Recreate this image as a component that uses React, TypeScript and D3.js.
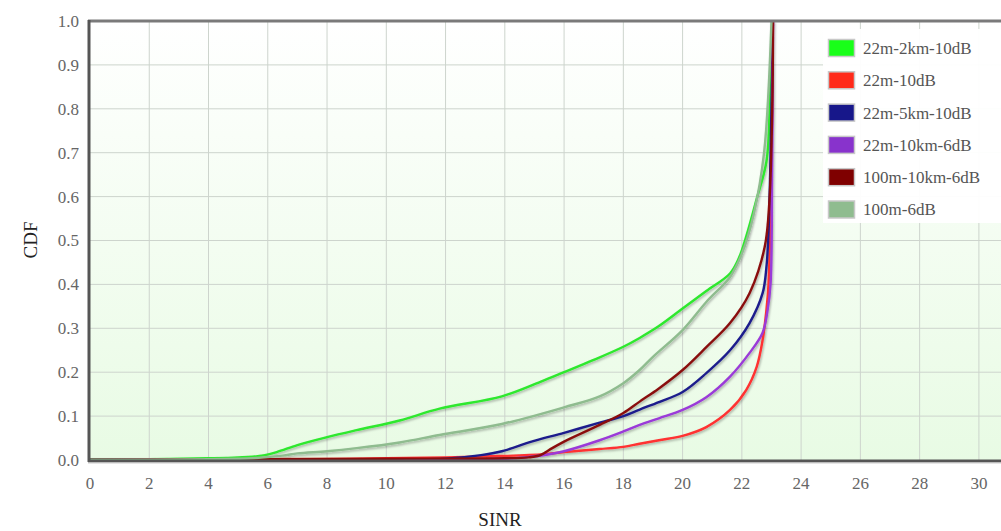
import React from "react";
import * as d3 from "d3";

const W = 1001;
const H = 531;

const xTicks = [0, 2, 4, 6, 8, 10, 12, 14, 16, 18, 20, 22, 24, 26, 28, 30];
const yTicks = [0, 0.1, 0.2, 0.3, 0.4, 0.5, 0.6, 0.7, 0.8, 0.9, 1.0];

const seriesNames = ["22m-2km-10dB", "22m-10dB", "22m-5km-10dB", "22m-10km-6dB", "100m-10km-6dB", "100m-6dB"];
const lineColors = ["#2ee82e", "#ff3030", "#1c1c8c", "#9a3ad8", "#8a0e0e", "#8fbc8f"];
const swatchColors = ["#19ff19", "#ff2a1a", "#17178a", "#8833cc", "#7f0000", "#8fbc8f"];

const greenX = [0, 2, 4, 5, 5.8, 6.3, 7, 8, 9, 10.45, 11.8, 13.9, 15.2, 16, 17, 18, 18.55, 19.2, 20, 20.8, 21.6, 21.9, 22.15, 22.5, 22.83, 22.95, 23.04];
const greenY = [0.002, 0.002, 0.004, 0.006, 0.01, 0.018, 0.034, 0.052, 0.068, 0.09, 0.117, 0.145, 0.178, 0.2, 0.228, 0.258, 0.278, 0.305, 0.345, 0.385, 0.425, 0.46, 0.51, 0.595, 0.68, 0.82, 1.0];

const redX = [0, 6, 9, 12, 13.9, 15.3, 16, 17.2, 18, 18.55, 19.2, 20, 20.8, 21.6, 22.15, 22.5, 22.7, 22.83, 22.9, 22.98, 23.03, 23.05];
const redY = [0, 0.002, 0.003, 0.006, 0.009, 0.013, 0.018, 0.025, 0.03, 0.037, 0.045, 0.055, 0.075, 0.114, 0.16, 0.212, 0.273, 0.342, 0.4, 0.6, 0.85, 1.0];

const navyX = [0, 6, 10, 12, 13.2, 13.9, 14.9, 16, 17.2, 18, 18.55, 19.2, 20, 20.8, 21.6, 22.26, 22.7, 22.83, 22.9, 22.97, 23.05];
const navyY = [0, 0.001, 0.002, 0.003, 0.011, 0.02, 0.042, 0.062, 0.085, 0.1, 0.115, 0.132, 0.155, 0.198, 0.25, 0.312, 0.38, 0.44, 0.52, 0.7, 1.0];

const purpleX = [0, 10, 14, 14.8, 15.4, 16, 17.2, 18, 18.55, 19.2, 20, 20.8, 21.6, 22.26, 22.7, 22.87, 22.97, 23.02, 23.05];
const purpleY = [0, 0.001, 0.003, 0.007, 0.012, 0.02, 0.045, 0.065, 0.08, 0.095, 0.114, 0.143, 0.19, 0.244, 0.29, 0.342, 0.403, 0.65, 1.0];

const maroonX = [0, 3, 6, 10, 14, 14.8, 15.2, 15.6, 16, 17.2, 18, 18.55, 19.2, 20, 20.8, 21.6, 22.26, 22.77, 22.93, 23.03, 23.05];
const maroonY = [0, 0.001, 0.002, 0.003, 0.004, 0.006, 0.011, 0.027, 0.042, 0.08, 0.107, 0.133, 0.163, 0.205, 0.257, 0.312, 0.38, 0.485, 0.59, 0.82, 1.0];

const sageX = [0, 4, 5.5, 6.5, 7, 8, 9, 10.45, 11.8, 13.9, 16, 17.2, 18, 18.55, 19, 20, 20.8, 21.6, 22.0, 22.4, 22.75, 23.0];
const sageY = [0, 0.002, 0.004, 0.01, 0.015, 0.02, 0.027, 0.04, 0.057, 0.082, 0.12, 0.145, 0.175, 0.205, 0.235, 0.296, 0.36, 0.417, 0.47, 0.56, 0.7, 1.0];

const seriesX = [greenX, redX, navyX, purpleX, maroonX, sageX];
const seriesY = [greenY, redY, navyY, purpleY, maroonY, sageY];

const PL = 90;
const PT = 21;
const PB = 460;
const xMax = 31;

export default function App() {
  const x = d3.scaleLinear().domain([0, xMax]).range([PL, PL + xMax * 29.63]);
  const y = d3.scaleLinear().domain([0, 1]).range([PB, PT]);
  const line = d3
    .line<[number, number]>()
    .x((d) => x(d[0]))
    .y((d) => y(d[1]))
    .curve(d3.curveCatmullRom.alpha(0.5));

  const serif = "'Liberation Serif', 'DejaVu Serif', serif";

  return (
    <svg
      width={W}
      height={H}
      style={{ position: "absolute", left: 0, top: 0, background: "#fff" }}
    >
      <defs>
        <linearGradient id="bg" x1="0" y1="0" x2="0" y2="1">
          <stop offset="0" stopColor="#ffffff" />
          <stop offset="1" stopColor="#e8fbe4" />
        </linearGradient>
        <filter id="shadow" x="-5%" y="-5%" width="110%" height="110%">
          <feDropShadow dx="1" dy="1.5" stdDeviation="1.2" floodColor="#000" floodOpacity="0.3" />
        </filter>
        <clipPath id="plotClip">
          <rect x={PL} y={PT - 2} width={W - PL} height={PB - PT + 4} />
        </clipPath>
      </defs>

      <rect x={PL} y={PT} width={W - PL} height={PB - PT} fill="url(#bg)" />

      {/* grid */}
      {xTicks.filter((t) => t > 0).map((t) => (
        <line key={"gx" + t} x1={x(t)} x2={x(t)} y1={PT} y2={PB} stroke="#cdd4cd" strokeWidth={1} />
      ))}
      {yTicks.filter((t) => t > 0 && t < 1).map((t) => (
        <line key={"gy" + t} x1={PL} x2={W} y1={y(t)} y2={y(t)} stroke="#cdd4cd" strokeWidth={1} />
      ))}

      {/* series */}
      <g clipPath="url(#plotClip)" filter="url(#shadow)">
        {seriesX.map((xs, i) => {
          const pts: [number, number][] = xs.map((v, j) => [v, seriesY[i][j]]);
          return (
            <path key={i} d={line(pts) || ""} fill="none" stroke={lineColors[i]} strokeWidth={2.4} strokeLinejoin="round" />
          );
        })}
      </g>

      {/* frame */}
      <line x1={PL - 2} x2={W} y1={PT} y2={PT} stroke="#7a7a7a" strokeWidth={3} />
      <line x1={PL - 1} x2={PL - 1} y1={PT - 1} y2={PB + 2} stroke="#555" strokeWidth={3} />
      <line x1={PL - 2} x2={W} y1={PB + 1} y2={PB + 1} stroke="#555" strokeWidth={3} />
      <line x1={PL - 2} x2={W} y1={PB + 3} y2={PB + 3} stroke="#ccc" strokeWidth={1} />

      {/* y tick labels */}
      {yTicks.map((t) => (
        <text key={"yt" + t} x={79} y={y(t)} dy="0.35em" textAnchor="end" fontFamily={serif} fontSize={17} fill="#666">
          {t.toFixed(1)}
        </text>
      ))}
      {/* x tick labels */}
      {xTicks.map((t) => (
        <text key={"xt" + t} x={x(t)} y={489} textAnchor="middle" fontFamily={serif} fontSize={17} fill="#666">
          {t}
        </text>
      ))}

      {/* axis titles */}
      <text x={500} y={526} textAnchor="middle" fontFamily={serif} fontSize={19} fill="#222">SINR</text>
      <text transform="translate(37,240) rotate(-90)" textAnchor="middle" fontFamily={serif} fontSize={19} fill="#222">CDF</text>

      {/* legend */}
      <rect x={823} y={29} width={W - 823} height={194} fill="#fff" fillOpacity={0.95} />
      {seriesNames.map((name, i) => {
        const cy = 48 + i * 32.3;
        return (
          <g key={name}>
            <rect x={828.5} y={cy - 8.5} width={26} height={17} fill={swatchColors[i]} stroke="#c8c8c8" strokeWidth={1.5} />
            <text x={863} y={cy} dy="0.35em" fontFamily={serif} fontSize={17} fill="#555">{name}</text>
          </g>
        );
      })}
    </svg>
  );
}
